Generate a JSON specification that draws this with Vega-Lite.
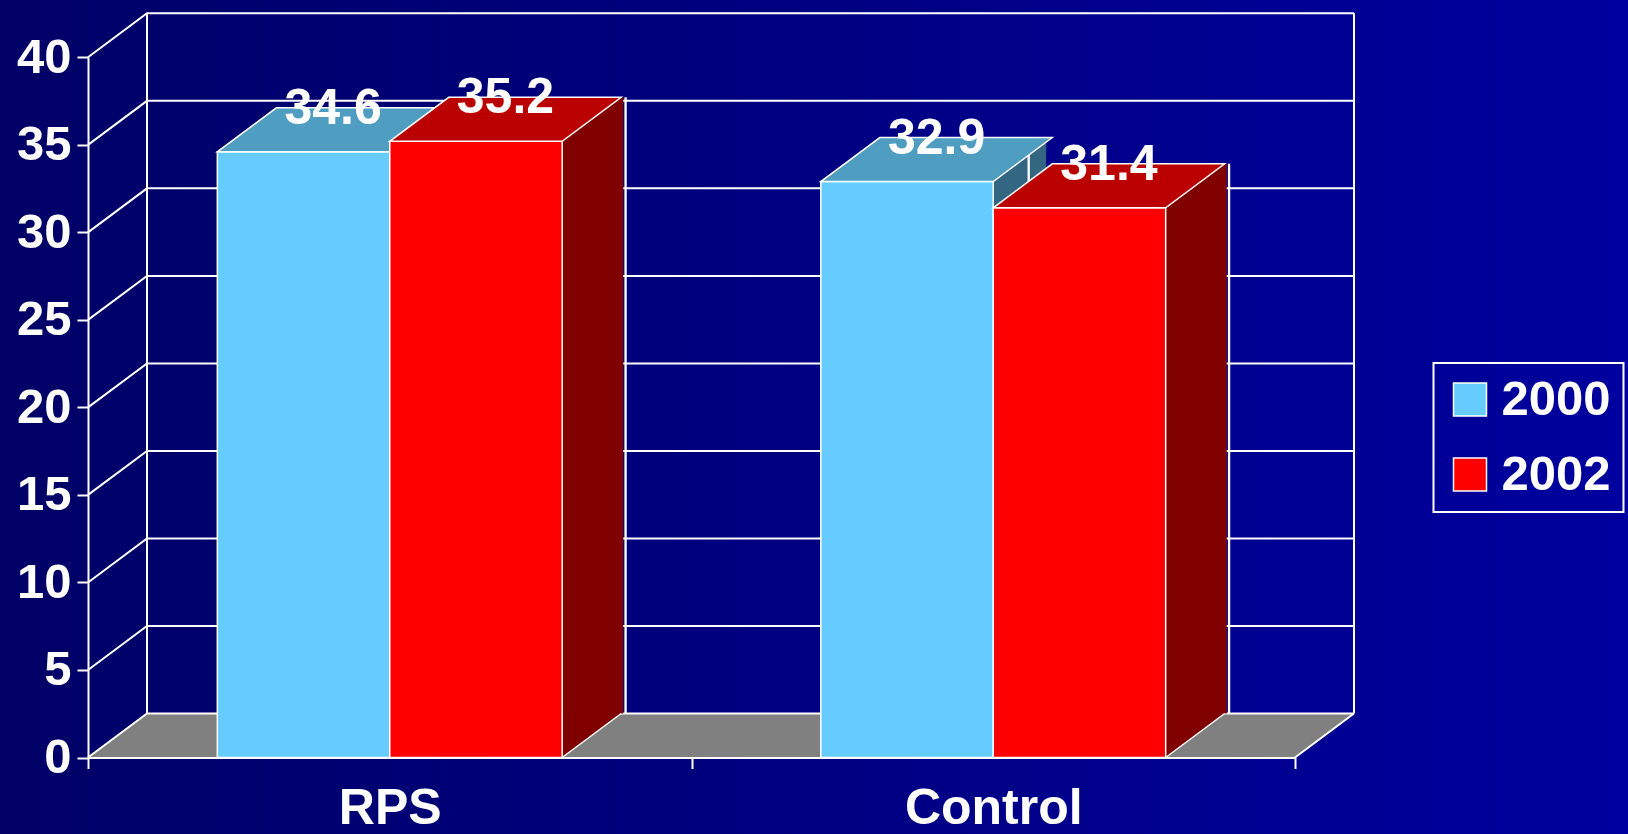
{
  "$schema": "https://vega.github.io/schema/vega-lite/v6.json",
  "width": 1628,
  "height": 834,
  "autosize": {"type": "none"},
  "padding": 0,
  "background": "#000066",
  "view": {
    "stroke": null,
    "fill": {
      "gradient": "linear",
      "x1": 0, "y1": 0, "x2": 1, "y2": 0,
      "stops": [
        {"offset": 0, "color": "#000066"},
        {"offset": 1, "color": "#00009E"}
      ]
    }
  },
  "config": {"legend": {"strokeWidth": 2}},
  "datasets": {
    "bars": [
      {"group": "RPS", "year": "2000", "value": 34.6},
      {"group": "RPS", "year": "2002", "value": 35.2},
      {"group": "Control", "year": "2000", "value": 32.9},
      {"group": "Control", "year": "2002", "value": 31.4}
    ],
    "ticks": [
      {"tick": 0}, {"tick": 5}, {"tick": 10}, {"tick": 15}, {"tick": 20},
      {"tick": 25}, {"tick": 30}, {"tick": 35}, {"tick": 40}
    ]
  },
  "resolve": {"scale": {"x": "independent"}},
  "layer": [
    {
      "layer": [
        {
          "data": {"values": [{}]},
          "mark": {"type": "point", "shape": "M0,0L1207,0L1266,-44L59,-44Z", "size": 4, "filled": true, "fill": "#808080", "strokeWidth": 0, "opacity": 1},
          "encoding": {
            "x": {
              "datum": 0, "type": "quantitative",
              "scale": {"domain": [0, 2], "range": [88, 1295], "nice": false, "zero": false},
              "axis": null
            },
            "y": {
              "datum": 0, "type": "quantitative",
              "scale": {"domain": [0, 40], "range": [757.5, 57.3], "nice": false, "zero": true}
            }
          }
        },
        {
          "data": {"name": "ticks"},
          "mark": {"type": "point", "shape": "M0,0L59,-44L1266,-44", "size": 4, "filled": false, "stroke": "white", "strokeWidth": 2, "opacity": 1},
          "encoding": {
            "x": {"datum": 0, "type": "quantitative", "axis": null},
            "y": {"field": "tick", "type": "quantitative"}
          }
        },
        {
          "data": {"values": [{}]},
          "mark": {"type": "point", "shape": "M59,-44L59,-744.2M1266,-44L1266,-744.2M1207,0L1266,-44", "size": 4, "filled": false, "stroke": "white", "strokeWidth": 2, "opacity": 1},
          "encoding": {
            "x": {"datum": 0, "type": "quantitative", "axis": null},
            "y": {"datum": 0, "type": "quantitative"}
          }
        }
      ]
    },
    {
      "data": {"name": "bars"},
      "resolve": {"scale": {"xOffset": "independent"}},
      "encoding": {
        "x": {
          "field": "group", "type": "nominal",
          "scale": {"domain": ["RPS", "Control"], "range": [88, 1295], "paddingInner": 0, "paddingOuter": 0},
          "axis": {
            "orient": "bottom", "offset": -76.5, "title": null, "zindex": 1,
            "grid": false,
            "ticks": true, "tickBand": "extent", "tickSize": 11, "tickColor": "white", "tickWidth": 2,
            "domain": true, "domainColor": "white", "domainWidth": 2,
            "labelAngle": 0, "labelFont": "Liberation Sans", "labelFontWeight": "bold",
            "labelFontSize": 50, "labelColor": "white", "labelBaseline": "alphabetic", "labelPadding": 55
          }
        },
        "xOffset": {
          "field": "year", "type": "nominal",
          "scale": {"type": "band", "domain": ["2000", "2002"], "paddingInner": 0, "paddingOuter": 0.75}
        },
        "y": {
          "field": "value", "type": "quantitative",
          "scale": {"domain": [0, 40], "range": [757.5, 57.3], "nice": false, "zero": true},
          "axis": {
            "orient": "left", "offset": -88, "values": [0, 5, 10, 15, 20, 25, 30, 35, 40],
            "title": null, "grid": false,
            "domain": true, "domainColor": "white", "domainWidth": 2,
            "ticks": true, "tickColor": "white", "tickWidth": 2, "tickSize": 11,
            "labels": true, "labelFont": "Liberation Sans", "labelFontWeight": "bold", "labelFontSize": 49,
            "labelColor": "white", "labelPadding": 6
          }
        }
      },
      "layer": [
        {
          "transform": [{"filter": "datum.year === '2000'"}],
          "resolve": {"scale": {"xOffset": "independent"}},
          "layer": [
            {
              "mark": {"type": "bar", "color": "#336680", "yOffset": -44},
              "encoding": {
                "xOffset": {
                  "field": "year", "type": "nominal",
                  "scale": {"type": "band", "domain": ["2000", "2002"], "paddingInner": 0.65783, "paddingOuter": 1.07892, "align": 0.81101}
                }
              }
            },
            {
              "mark": {"type": "bar", "color": "white", "yOffset": -44},
              "encoding": {
                "xOffset": {
                  "field": "year", "type": "nominal",
                  "scale": {"type": "band", "domain": ["2000", "2002"], "paddingInner": 0.9884, "paddingOuter": 1.2442, "align": 0.83844}
                }
              }
            },
            {
              "mark": {"type": "point", "shape": "M86.2,0L86.2,-44.8L145.2,-44.8L145.2,-44Z", "size": 4, "filled": true, "fill": "#336680", "strokeWidth": 0, "opacity": 1},
              "encoding": {"y": {"datum": 0, "type": "quantitative"}}
            },
            {
              "mark": {"type": "point", "shape": "M86.2,0L145.2,-44", "size": 4, "filled": false, "stroke": "white", "strokeWidth": 1.5, "opacity": 1},
              "encoding": {"y": {"datum": 0, "type": "quantitative"}}
            },
            {
              "mark": {"type": "bar", "stroke": "white", "strokeWidth": 1.5, "opacity": 1},
              "encoding": {
                "color": {
                  "field": "year", "type": "nominal",
                  "scale": {"domain": ["2000", "2002"], "range": ["#66CCFF", "#FF0000"]},
                  "legend": {
                    "orient": "none", "legendX": 1433.5, "legendY": 363, "title": null,
                    "symbolType": "square", "symbolSize": 1089,
                    "symbolStrokeColor": "white", "symbolStrokeWidth": 1.5, "symbolOpacity": 1,
                    "labelFont": "Liberation Sans", "labelFontWeight": "bold", "labelFontSize": 49,
                    "labelColor": "white", "labelOffset": 7, "rowPadding": 25,
                    "padding": 12, "strokeColor": "white"
                  }
                }
              }
            },
            {
              "mark": {"type": "point", "shape": "M-86.2,0L86.2,0L145.2,-44L-27.2,-44Z", "size": 4, "filled": true, "fill": "#4F9DC0", "stroke": "white", "strokeWidth": 1.5, "opacity": 1}
            }
          ]
        },
        {
          "transform": [{"filter": "datum.year === '2002'"}],
          "resolve": {"scale": {"xOffset": "independent"}},
          "layer": [
            {
              "mark": {"type": "bar", "color": "#800000", "yOffset": -44},
              "encoding": {
                "xOffset": {
                  "field": "year", "type": "nominal",
                  "scale": {"type": "band", "domain": ["2000", "2002"], "paddingInner": 0.65783, "paddingOuter": 1.07892, "align": 0.81101}
                }
              }
            },
            {
              "mark": {"type": "bar", "color": "white", "yOffset": -44},
              "encoding": {
                "xOffset": {
                  "field": "year", "type": "nominal",
                  "scale": {"type": "band", "domain": ["2000", "2002"], "paddingInner": 0.9884, "paddingOuter": 1.2442, "align": 0.83844}
                }
              }
            },
            {
              "mark": {"type": "point", "shape": "M86.2,0L86.2,-44.8L145.2,-44.8L145.2,-44Z", "size": 4, "filled": true, "fill": "#800000", "strokeWidth": 0, "opacity": 1},
              "encoding": {"y": {"datum": 0, "type": "quantitative"}}
            },
            {
              "mark": {"type": "point", "shape": "M86.2,0L145.2,-44", "size": 4, "filled": false, "stroke": "white", "strokeWidth": 1.5, "opacity": 1},
              "encoding": {"y": {"datum": 0, "type": "quantitative"}}
            },
            {
              "mark": {"type": "bar", "stroke": "white", "strokeWidth": 1.5, "opacity": 1},
              "encoding": {
                "color": {
                  "field": "year", "type": "nominal",
                  "scale": {"domain": ["2000", "2002"], "range": ["#66CCFF", "#FF0000"]},
                  "legend": {
                    "orient": "none", "legendX": 1433.5, "legendY": 363, "title": null,
                    "symbolType": "square", "symbolSize": 1089,
                    "symbolStrokeColor": "white", "symbolStrokeWidth": 1.5, "symbolOpacity": 1,
                    "labelFont": "Liberation Sans", "labelFontWeight": "bold", "labelFontSize": 49,
                    "labelColor": "white", "labelOffset": 7, "rowPadding": 25,
                    "padding": 12, "strokeColor": "white"
                  }
                }
              }
            },
            {
              "mark": {"type": "point", "shape": "M-86.2,0L86.2,0L145.2,-44L-27.2,-44Z", "size": 4, "filled": true, "fill": "#BB0000", "stroke": "white", "strokeWidth": 1.5, "opacity": 1}
            }
          ]
        },
        {
          "mark": {
            "type": "text", "font": "Liberation Sans", "fontWeight": "bold", "fontSize": 50,
            "color": "white", "align": "center", "baseline": "alphabetic", "dx": 29.5, "dy": -28
          },
          "encoding": {
            "text": {"field": "value", "type": "quantitative", "format": ".1f"}
          }
        }
      ]
    }
  ]
}
